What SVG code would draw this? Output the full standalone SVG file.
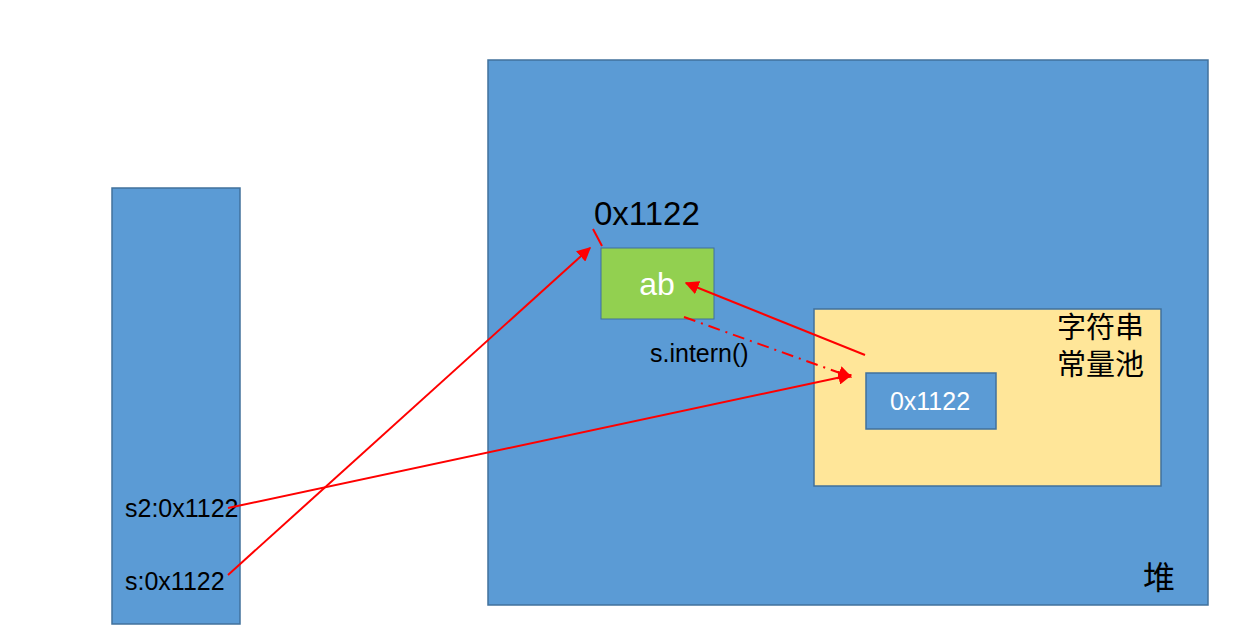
<svg xmlns="http://www.w3.org/2000/svg" width="1246" height="642" viewBox="0 0 1246 642">
<style>
.blue{fill:#5B9BD5;stroke:#41719C;stroke-width:1.5}
.t{font-family:"Liberation Sans",Arial,sans-serif;fill:#000}
.w{font-family:"Liberation Sans",Arial,sans-serif;fill:#FFFFFF}
.cjk{font-family:"Liberation Sans","Noto Sans CJK SC",sans-serif;fill:#000}
.c{stroke:#FF0000;stroke-width:2;fill:none}
</style>
<defs>
<marker id="ah" viewBox="0 0 10 10" refX="9" refY="5" markerWidth="7" markerHeight="7" orient="auto" markerUnits="strokeWidth">
<path d="M0,0 L10,5 L0,10 z" fill="#FF0000"/>
</marker>
</defs>
<rect width="1246" height="642" fill="#FFFFFF"/>
<g id="stack">
<rect class="blue" x="112" y="188" width="128" height="436"/>
<text class="t" x="125" y="517" font-size="25">s2:0x1122</text>
<text class="t" x="125" y="590" font-size="25">s:0x1122</text>
</g>
<g id="heap">
<rect class="blue" x="488" y="60" width="720" height="545"/>
<text class="cjk" x="1143" y="589" font-size="32">堆</text>
</g>
<g id="obj">
<text class="t" x="594" y="225" font-size="33">0x1122</text>
<rect x="601" y="248" width="113" height="71" fill="#92D050" stroke="#41719C" stroke-width="1"/>
<text class="w" x="657" y="295" font-size="32" text-anchor="middle">ab</text>
</g>
<g id="pool">
<rect x="814" y="309" width="347" height="177" fill="#FFE699" stroke="#41719C" stroke-width="1.5"/>
<text class="cjk" x="1057" y="338" font-size="29">字符串</text>
<text class="cjk" x="1057" y="375" font-size="29">常量池</text>
</g>
<g id="ref">
<rect class="blue" x="866" y="373" width="130" height="56"/>
<text class="w" x="930" y="410" font-size="25" text-anchor="middle">0x1122</text>
</g>
<g id="label">
<text class="t" x="650" y="362" font-size="25">s.intern()</text>
</g>
<g id="connectors">
<line class="c" x1="593" y1="229" x2="602" y2="246"/>
<line class="c" x1="228" y1="575" x2="590" y2="248" marker-end="url(#ah)"/>
<line class="c" x1="228" y1="508" x2="851" y2="375" marker-end="url(#ah)"/>
<line class="c" x1="865" y1="355" x2="686" y2="283" marker-end="url(#ah)"/>
<line class="c" x1="684" y1="317" x2="851" y2="377" stroke-dasharray="12,6,2,6" marker-end="url(#ah)"/>
</g>
</svg>
